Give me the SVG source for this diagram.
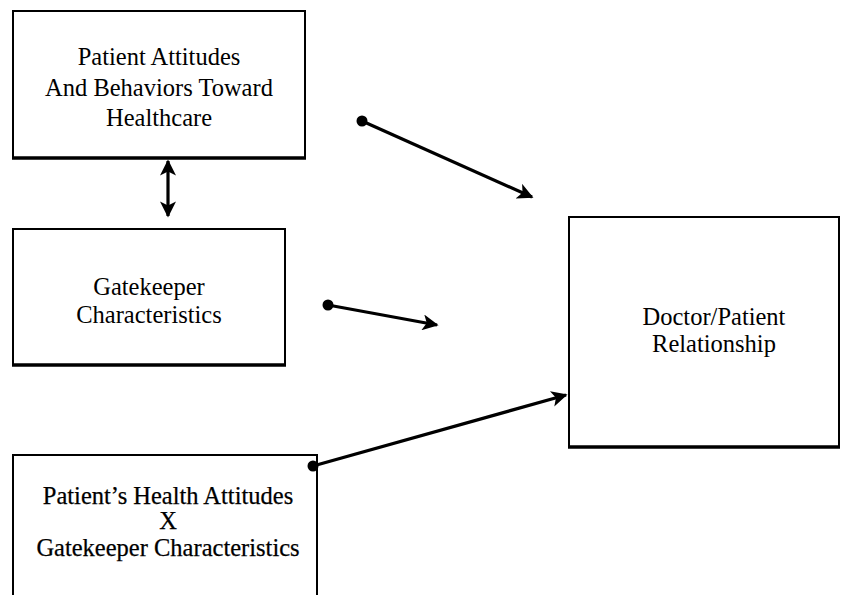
<svg xmlns="http://www.w3.org/2000/svg" width="849" height="595" viewBox="0 0 849 595">
<defs>
<marker id="ah" viewBox="0 0 10 10" refX="9" refY="5" markerWidth="5.5" markerHeight="5" orient="auto-start-reverse" markerUnits="strokeWidth">
<path d="M0,0 L10,5 L0,10 L2.5,5 Z" fill="#000"/>
</marker>
</defs>
<style>
.box{fill:#fff;stroke:#000;stroke-width:2}
.bot{stroke:#000;stroke-width:3.5}
.t{font-family:"Liberation Serif","Times New Roman",Times,serif;font-size:24.5px;fill:#000;text-anchor:middle}
.b{stroke:#000;stroke-width:0.25}
.c{stroke:#000;stroke-width:3.2;fill:none}
</style>
<rect width="849" height="595" fill="#fff"/>
<g id="n1">
<rect class="box" x="13" y="11" width="292" height="147"/>
<line class="bot" x1="12" y1="158" x2="306" y2="158"/>
<text class="t" x="159" y="65">Patient Attitudes</text>
<text class="t" x="159" y="96">And Behaviors Toward</text>
<text class="t" x="159" y="126">Healthcare</text>
</g>
<g id="n2">
<rect class="box" x="13" y="229" width="272" height="136"/>
<line class="bot" x1="12" y1="365" x2="286" y2="365"/>
<text class="t" x="149" y="295">Gatekeeper</text>
<text class="t" x="149" y="323">Characteristics</text>
</g>
<g id="n3">
<rect class="box" x="13" y="455" width="304" height="150"/>
<text class="t b" x="168" y="504">Patient’s Health Attitudes</text>
<text class="t b" x="168" y="529">X</text>
<text class="t b" x="168" y="556">Gatekeeper Characteristics</text>
</g>
<g id="n4">
<rect class="box" x="569" y="217" width="270" height="230"/>
<line class="bot" x1="568" y1="447" x2="840" y2="447"/>
<text class="t" x="714" y="325">Doctor/Patient</text>
<text class="t" x="714" y="352">Relationship</text>
</g>
<g id="connectors">
<line class="c" x1="168" y1="161" x2="168" y2="216" marker-start="url(#ah)" marker-end="url(#ah)"/>
<circle cx="362" cy="121" r="5.5"/>
<line class="c" x1="362" y1="121" x2="532" y2="197" marker-end="url(#ah)"/>
<circle cx="328" cy="305" r="5.5"/>
<line class="c" x1="328" y1="305" x2="437" y2="325" marker-end="url(#ah)"/>
<circle cx="313" cy="466" r="5.5"/>
<line class="c" x1="313" y1="466" x2="566" y2="395" marker-end="url(#ah)"/>
</g>
</svg>
